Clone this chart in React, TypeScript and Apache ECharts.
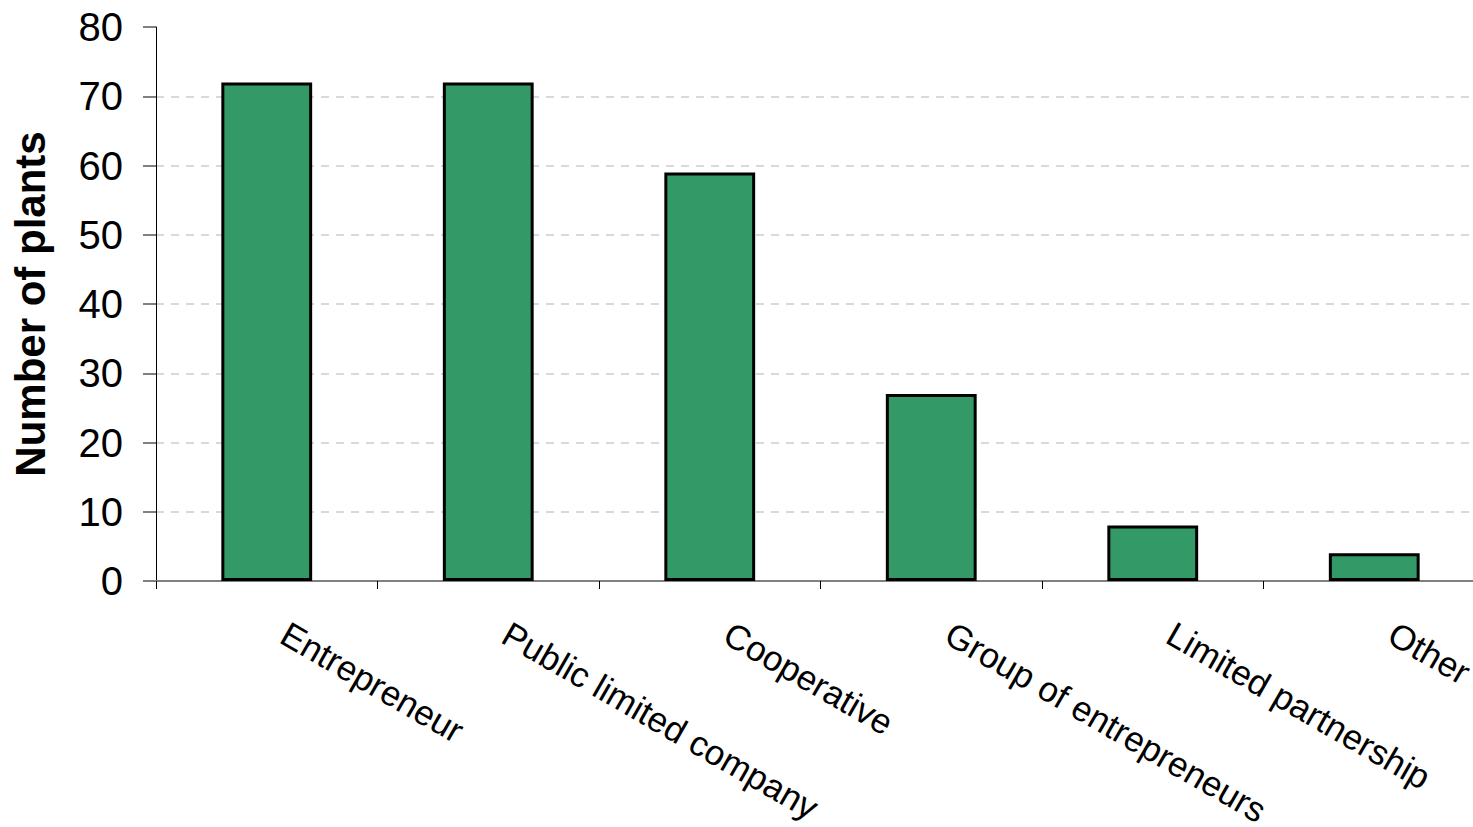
import React, { useEffect, useRef } from "react";
import * as echarts from "echarts";

const categories = [
  "Entrepreneur",
  "Public limited company",
  "Cooperative",
  "Group of entrepreneurs",
  "Limited partnership",
  "Other",
];
const plants = [72, 72, 59, 27, 8, 4];
const yTicks = { min: 0, max: 80, interval: 10 };
const yAxisName = "Number of plants";

export default function App() {
  const ref = useRef<HTMLDivElement>(null);
  useEffect(() => {
    if (!ref.current) return;
    const chart = echarts.init(ref.current, undefined, { renderer: "svg" });
    const font = "Arial, 'Liberation Sans', sans-serif";
    chart.setOption({
      animation: false,
      backgroundColor: "#ffffff",
      grid: {
        left: 156,
        top: 27,
        right: -12,
        bottom: 246,
        containLabel: false,
        outerBoundsMode: "none",
      },
      xAxis: {
        type: "category",
        data: categories,
        boundaryGap: true,
        axisLine: { show: true, lineStyle: { color: "#808080", width: 2 } },
        axisTick: { show: true, length: 8, lineStyle: { color: "#000000", width: 1 } },
        axisLabel: {
          rotate: -30,
          margin: 40,
          padding: [0, 0, 0, 20],
          interval: 0,
          fontSize: 35,
          fontFamily: font,
          color: "#000000",
        },
        splitLine: { show: false },
      },
      yAxis: {
        type: "value",
        min: yTicks.min,
        max: yTicks.max,
        interval: yTicks.interval,
        name: yAxisName,
        nameLocation: "middle",
        nameGap: 105,
        nameTextStyle: { fontSize: 42, fontWeight: "bold", fontFamily: font, color: "#000000" },
        axisLine: { show: true, lineStyle: { color: "#000000", width: 1 } },
        axisTick: { show: true, inside: false, length: 13, lineStyle: { color: "#808080", width: 2 } },
        axisLabel: { fontSize: 40, fontFamily: font, color: "#000000", margin: 33 },
        splitLine: {
          show: true,
          showMaxLine: false,
          showMinLine: false,
          lineStyle: { color: "#d9d9d9", width: 2, type: [8, 7] },
        },
      },
      series: [
        {
          type: "bar",
          data: plants,
          barWidth: "41%",
          itemStyle: { color: "#339966", borderColor: "#000000", borderWidth: 3 },
        },
      ],
    });
    return () => chart.dispose();
  }, []);
  return (
    <div
      ref={ref}
      style={{ position: "fixed", left: 0, top: 0, width: 1473, height: 827 }}
    />
  );
}
